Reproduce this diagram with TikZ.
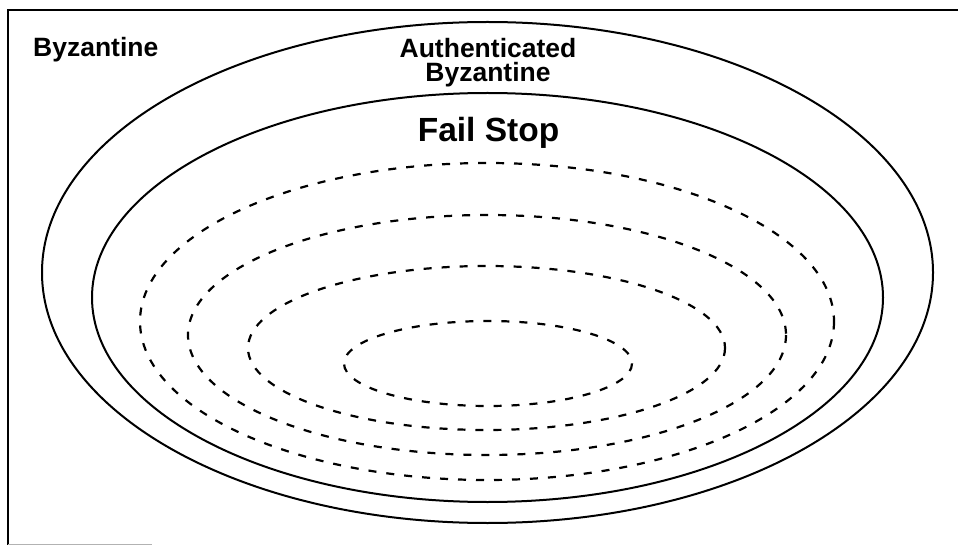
\documentclass[tikz,border=0pt]{standalone}
\usepackage{fontspec}
\setmainfont{Liberation Sans}
\begin{document}
\begin{tikzpicture}[x=1pt,y=-1pt,
  solidring/.style={line width=2pt},
  dashring/.style={line width=2.2pt,dash pattern=on 8pt off 10pt},
  framerule/.style={line width=1.8pt},
  lbl/.style={inner sep=0pt,font=\bfseries\fontsize{26.5}{24}\selectfont,anchor=base,align=center}]
\useasboundingbox (0,0) rectangle (958,545);
% frame
\coordinate (tl) at (8,10);
\coordinate (tr) at (958,10);
\coordinate (bl) at (8,545);
\draw[framerule] (tr) -- (tl) -- (bl);
\draw[gray!60,line width=1pt] (8,544) -- (152,544);
% rings
\draw[solidring] (487.5,272.5) ellipse [x radius=445.5, y radius=250.5];
\draw[solidring] (487.5,297.5) ellipse [x radius=395.5, y radius=204.5];
\draw[dashring] (487,321.5) ellipse [x radius=347, y radius=158.5];
\draw[dashring] (487,335) ellipse [x radius=299, y radius=120];
\draw[dashring] (486.5,348) ellipse [x radius=238.5, y radius=82];
\draw[dashring] (488,363.5) ellipse [x radius=144, y radius=42.5];
% labels
\node[lbl,anchor=base west] (byz) at (33,57) {Byzantine};
\node[lbl] (auth) at (488,82) {Authenticated\\Byzantine};
\node[lbl,font=\bfseries\fontsize{33.5}{36}\selectfont] (fs) at (488.5,142) {Fail Stop};
\end{tikzpicture}
\end{document}
